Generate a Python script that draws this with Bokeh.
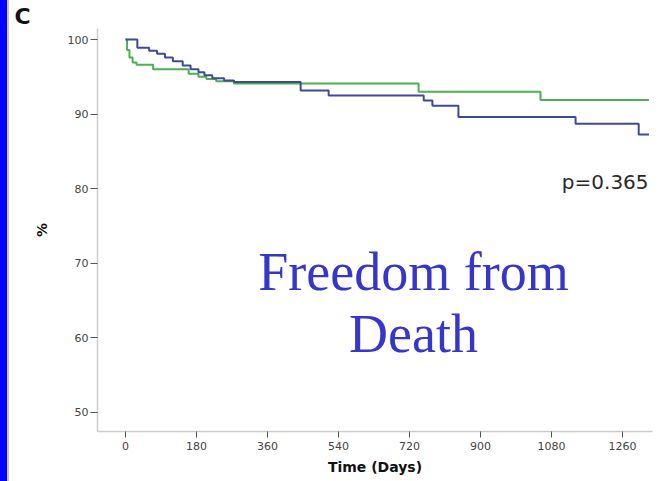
from bokeh.plotting import figure
from bokeh.models import Range1d, FixedTicker, Label
from bokeh.embed import file_html
from bokeh.resources import INLINE

# Kaplan-Meier style step data (days, % free from death)
blue_days = [0, 30, 60, 80, 100, 120, 145, 165, 185, 200, 220, 250, 275, 444, 515, 756, 778, 844, 1141, 1301, 1327]
blue_surv = [100, 98.9, 98.5, 98.1, 97.6, 97.1, 96.5, 96.0, 95.6, 95.2, 94.8, 94.5, 94.3, 93.15, 92.5, 91.8, 91.1, 89.6, 88.7, 87.25, 87.25]

green_days = [0, 4, 10, 18, 28, 70, 160, 185, 205, 230, 275, 743, 1052, 1327]
green_surv = [100, 98.6, 97.6, 96.9, 96.6, 96.0, 95.4, 95.0, 94.7, 94.4, 94.1, 93.0, 91.9, 91.9]

x_ticks = [0, 180, 360, 540, 720, 900, 1080, 1260]
y_ticks = [50, 60, 70, 80, 90, 100]

p = figure(width=665, height=481, output_backend="svg", toolbar_location=None,
           x_range=Range1d(-71, 1336), y_range=Range1d(47.39, 101.48),
           min_border_left=97, min_border_right=13, min_border_top=28, min_border_bottom=50,
           title="C")

p.title.align = "left"
p.title.offset = -83
p.title.standoff = 0
p.title.vertical_align = "bottom"
p.title.text_font = "DejaVu Sans"
p.title.text_font_style = "bold"
p.title.text_font_size = "22px"
p.title.text_color = "#111111"

p.border_fill_color = None
p.styles = {"background": "linear-gradient(90deg, #0000fe 0px, #0000fe 7px, #d6c4aa 7px, #d6c4aa 9px, #ffffff 9px)"}
p.background_fill_color = "white"
p.outline_line_color = None
p.xgrid.visible = False
p.ygrid.visible = False

p.step(green_days, green_surv, mode="after", line_color="#4caf50", line_width=2)
p.step(blue_days, blue_surv, mode="after", line_color="#3f4a94", line_width=2)

for ax in (p.xaxis[0], p.yaxis[0]):
    ax.axis_line_color = "#cccccc"
    ax.axis_line_width = 1.5
    ax.major_tick_line_color = "#555555"
    ax.minor_tick_line_color = None
    ax.major_tick_in = 0
    ax.major_label_text_font = "DejaVu Sans"
    ax.major_label_text_font_size = "11px"
    ax.major_label_text_color = "#444444"
    ax.axis_label_text_font = "DejaVu Sans"
    ax.axis_label_text_font_style = "bold"
    ax.axis_label_text_color = "#111111"

p.xaxis.ticker = FixedTicker(ticks=x_ticks)
p.yaxis.ticker = FixedTicker(ticks=y_ticks)
p.xaxis.major_tick_out = 6
p.xaxis.major_label_standoff = 4
p.xaxis.axis_label = "Time (Days)"
p.xaxis.axis_label_text_font_size = "14px"
p.xaxis.axis_label_standoff = 6
p.yaxis.major_tick_out = 7
p.yaxis.major_label_standoff = 2
p.yaxis.axis_label = "%"
p.yaxis.axis_label_text_font_size = "14px"
p.yaxis.axis_label_standoff = 15

p.add_layout(Label(x=1326, y=79.26, text="p=0.365", text_align="right",
                   text_font="DejaVu Sans", text_font_size="20px", text_color="#2a2a2a"))
p.add_layout(Label(x=730, y=64.83, text="Freedom from", text_align="center",
                   text_font="Liberation Serif", text_font_size="54px", text_color="#3636c8"))
p.add_layout(Label(x=730, y=56.4, text="Death", text_align="center",
                   text_font="Liberation Serif", text_font_size="54px", text_color="#3636c8"))

open("out.html", "w").write(file_html(p, INLINE))
